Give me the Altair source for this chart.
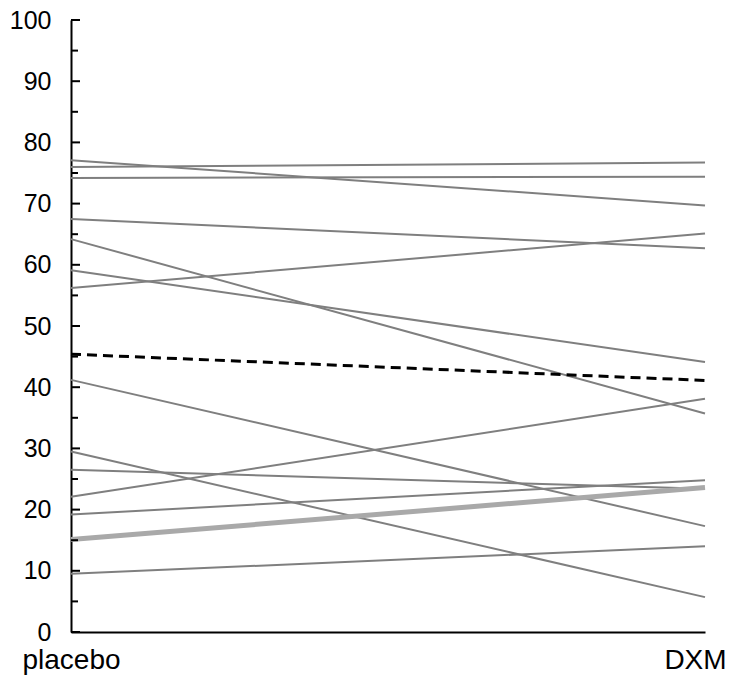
import altair as alt
import pandas as pd

conditions = ["placebo", "DXM"]

# individual subjects (placebo value, DXM value)
placebo = [77.1, 76.0, 74.2, 67.5, 64.2, 59.1, 56.2, 41.2, 29.5, 26.5, 22.1, 19.2, 9.5]
dxm = [69.7, 76.7, 74.4, 62.7, 35.7, 44.1, 65.1, 17.3, 5.7, 23.4, 38.1, 24.8, 14.0]

# highlighted subject and group mean
highlight = [15.1, 23.6]
mean = [45.4, 41.1]

major_ticks = [0, 10, 20, 30, 40, 50, 60, 70, 80, 90, 100]
minor_ticks = [5, 15, 25, 35, 45, 55, 65, 75, 85, 95]

rows = []
for i, (a, b) in enumerate(zip(placebo, dxm)):
    rows.append({"subject": i, "condition": conditions[0], "value": a})
    rows.append({"subject": i, "condition": conditions[1], "value": b})
ind_df = pd.DataFrame(rows)
hl_df = pd.DataFrame({"condition": conditions, "value": highlight})
mean_df = pd.DataFrame({"condition": conditions, "value": mean})
major_df = pd.DataFrame({"value": major_ticks})
minor_df = pd.DataFrame({"value": minor_ticks})

FONT = "Liberation Sans"

x_enc = alt.X(
    "condition:N",
    sort=conditions,
    scale=alt.Scale(type="point", domain=conditions, padding=0),
    axis=alt.Axis(
        title=None, labelAngle=0, labelFontSize=28, labelFont=FONT,
        labelColor="black", labelPadding=14, ticks=False,
        labelOffset=alt.ConditionalAxisNumber(
            condition={"test": "datum.value == 'DXM'", "value": -10}, value=0
        ),
        domainColor="black", domainWidth=2, grid=False,
    ),
)
y_enc = alt.Y(
    "value:Q",
    scale=alt.Scale(domain=[0, 100], nice=False, zero=True),
    axis=alt.Axis(
        title=None, values=major_ticks, labelFontSize=25, labelFont=FONT,
        labelColor="black", labelPadding=20, ticks=False,
        domainColor="black", domainWidth=2, grid=False,
    ),
)

ind = alt.Chart(ind_df).mark_line(color="#7f7f7f", strokeWidth=2).encode(
    x=x_enc, y=y_enc, detail="subject:N"
)
hl = alt.Chart(hl_df).mark_line(color="#a9a9a9", strokeWidth=5).encode(
    x=x_enc, y=y_enc
)
mn = alt.Chart(mean_df).mark_line(color="black", strokeWidth=3, strokeDash=[10, 6]).encode(
    x=x_enc, y=y_enc
)
maj = alt.Chart(major_df).mark_rule(color="black", strokeWidth=2).encode(
    y=y_enc, x=alt.value(0), x2=alt.value(9)
)
mino = alt.Chart(minor_df).mark_rule(color="black", strokeWidth=2).encode(
    y=y_enc, x=alt.value(0), x2=alt.value(7)
)

chart = (
    alt.layer(ind, hl, mn, maj, mino)
    .properties(
        width=634,
        height=612,
        autosize=alt.AutoSizeParams(type="none"),
        padding={"left": 63, "top": 12, "right": 22, "bottom": 43},
    )
    .configure_view(stroke=None)
)

chart.save("out.html", embed_options={"renderer": "svg", "actions": False})
